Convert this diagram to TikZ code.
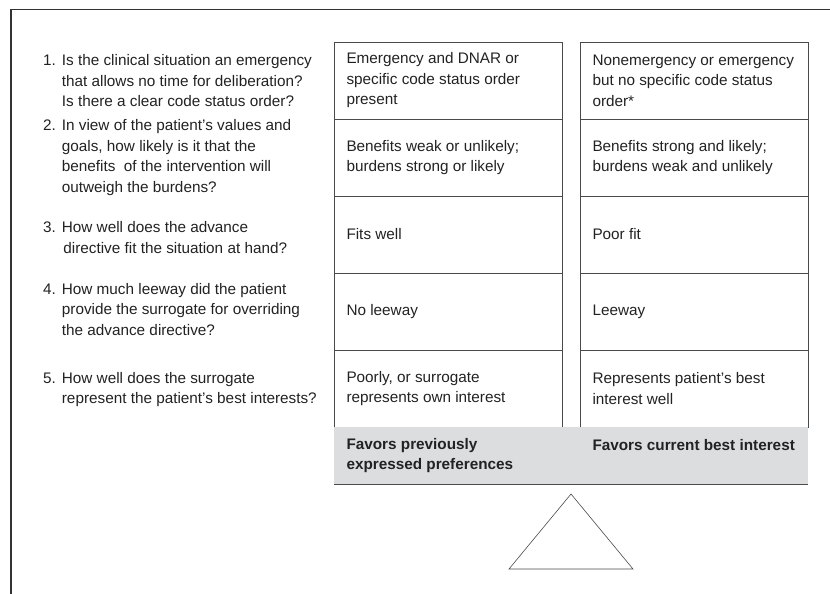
\documentclass[tikz,border=0pt]{standalone}
\usepackage{fontspec}
\setmainfont{Liberation Sans}
\usetikzlibrary{positioning}

\definecolor{inkgray}{HTML}{222222}
\definecolor{rulegray}{HTML}{4A4A4A}
\definecolor{bandgray}{HTML}{DCDDDF}
\newcommand{\diagfont}{\fontsize{15.3bp}{20.5bp}\selectfont}

\tikzset{
    frame/.style={draw=black!80, line width=1.3bp},
    cell/.style={draw=rulegray, line width=0.9bp, outer sep=0pt,
        minimum width=228bp, minimum height=77bp, text width=203bp,
        inner xsep=12.5bp, inner ysep=0pt, align=flush left},
    bandcell/.style={fill=bandgray, outer sep=0pt,
        minimum width=228bp, minimum height=57bp, text width=203bp,
        inner xsep=12.5bp, inner ysep=0pt, align=flush left, font=\diagfont\bfseries},
    qnum/.style={anchor=base west, inner sep=0pt},
    question/.style={anchor=base west, inner sep=0pt, text width=265bp, align=flush left},
}

\begin{document}
\begin{tikzpicture}[x=1bp, y=1bp, every node/.style={font=\diagfont, text=inkgray}]
    \useasboundingbox (0,0) rectangle (830,-594);

    % outer frame
    \draw[frame] (11,-594) -- (11,-9.5) -- (830,-9.5);

    % questions
    \node[qnum] (n1) at (43,-65.7) {1.};
    \node[question] (q1) at (61.7,-65.7) {Is the clinical situation an emergency\\that allows no time for deliberation?\\Is there a clear code status order?};
    \node[qnum] (n2) at (43,-130.7) {2.};
    \node[question] (q2) at (61.7,-130.7) {In view of the patient's values and\\goals, how likely is it that the\\benefits\ \ of the intervention will\\outweigh the burdens?};
    \node[qnum] (n3) at (43,-233) {3.};
    \node[question] (q3) at (61.7,-233) {How well does the advance\\\hspace*{1.5bp}directive fit the situation at hand?};
    \node[qnum] (n4) at (43,-294) {4.};
    \node[question] (q4) at (61.7,-294) {How much leeway did the patient\\provide the surrogate for overriding\\the advance directive?};
    \node[qnum] (n5) at (43,-383.3) {5.};
    \node[question] (q5) at (61.7,-383.3) {How well does the surrogate\\represent the patient's best interests?};

    % left column
    \node[cell] (l1) at (448,-80.5) {Emergency and DNAR or\\specific code status order\\present};
    \node[cell, below=0pt of l1] (l2) {Benefits weak or unlikely;\\burdens strong or likely};
    \node[cell, below=0pt of l2] (l3) {Fits well};
    \node[cell, below=0pt of l3] (l4) {No leeway};
    \node[cell, below=0pt of l4] (l5) {Poorly, or surrogate\\represents own interest};

    % right column
    \node[cell, right=18bp of l1] (r1) {\mbox{Nonemergency or emergency}\\but no specific code status\\order*};
    \node[cell, below=0pt of r1] (r2) {Benefits strong and likely;\\burdens weak and unlikely};
    \node[cell, below=0pt of r2] (r3) {Poor fit};
    \node[cell, below=0pt of r3] (r4) {Leeway};
    \node[cell, below=0pt of r4] (r5) {Represents patient's best\\interest well};

    % beam
    \node[bandcell, below=0pt of l5] (lfav) {Favors previously\\expressed preferences};
    \node[bandcell, below=0pt of r5] (rfav) {\mbox{Favors current best interest}\\\mbox{}};
    \fill[bandgray] (lfav.north east) rectangle (rfav.south west);
    \draw[rulegray, line width=0.9bp] (lfav.south west) -- (rfav.south east);

    % fulcrum
    \coordinate (apex) at (571,-494);
    \draw[rulegray, line width=0.6bp] (apex) -- (633,-569) -- (509,-569) -- cycle;
\end{tikzpicture}
\end{document}
